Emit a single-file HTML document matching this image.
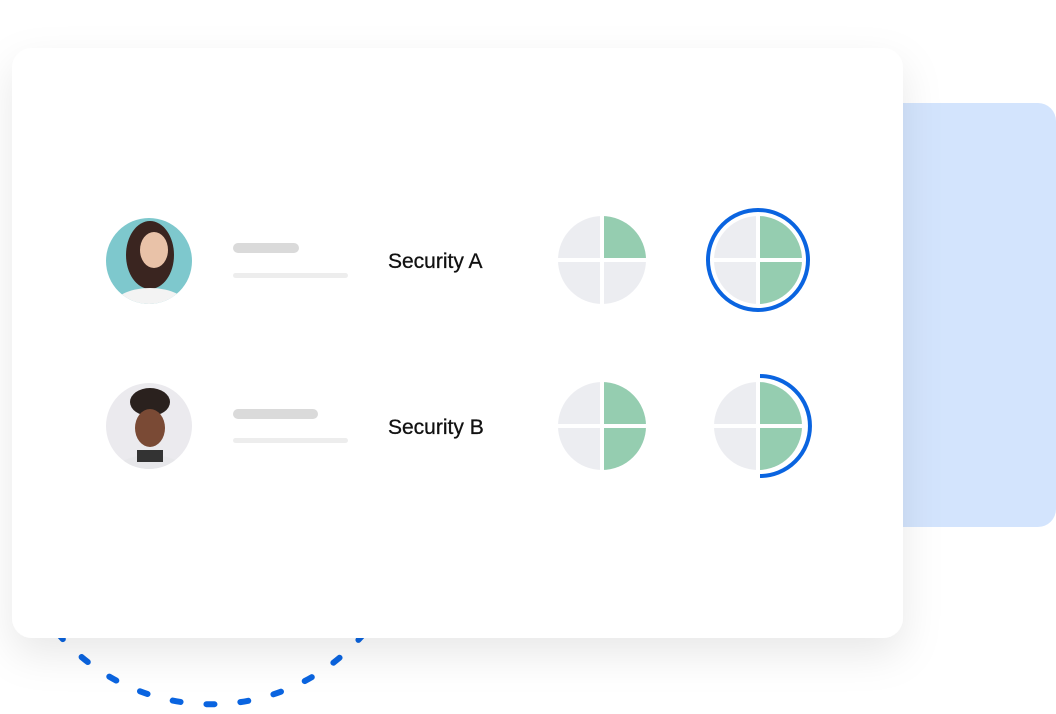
<!DOCTYPE html>
<html><head><style>
html,body{margin:0;padding:0;background:#fff;width:1056px;height:714px;overflow:hidden}
</style></head><body>
<svg width="1056" height="714" viewBox="0 0 1056 714" xmlns="http://www.w3.org/2000/svg">
<defs>
<filter id="sh" x="-10%" y="-10%" width="120%" height="130%">
<feDropShadow dx="0" dy="16" stdDeviation="20" flood-color="#000" flood-opacity="0.09"/>
</filter>
<clipPath id="a1"><circle cx="149" cy="261" r="43"/></clipPath>
<clipPath id="a2"><circle cx="149" cy="426" r="43"/></clipPath>
</defs>
<rect x="870" y="103" width="186" height="424" rx="18" fill="#d3e4fd"/>
<path d="M55 630 A201 201 0 0 0 367 630" fill="none" stroke="#0a64e0" stroke-width="6" stroke-linecap="round" stroke-dasharray="8 26" stroke-dashoffset="30"/>
<rect x="12" y="48" width="891" height="590" rx="20" fill="#fff" filter="url(#sh)"/>
<g clip-path="url(#a1)">
<rect x="100" y="210" width="100" height="100" fill="#7ec8cd"/>
<ellipse cx="150" cy="255" rx="24" ry="34" fill="#3a2520"/>
<ellipse cx="154" cy="250" rx="14" ry="18" fill="#e9c2a8"/>
<ellipse cx="150" cy="310" rx="40" ry="22" fill="#f3f3f3"/>
</g>
<g clip-path="url(#a2)">
<rect x="100" y="380" width="100" height="100" fill="#ebeaee"/>
<ellipse cx="150" cy="402" rx="20" ry="14" fill="#2a211e"/>
<ellipse cx="150" cy="428" rx="15" ry="19" fill="#7a4a35"/>
<ellipse cx="150" cy="475" rx="38" ry="20" fill="#e7e7ea"/>
<rect x="137" y="450" width="26" height="12" fill="#333"/>
</g>
<rect x="233" y="243" width="66" height="10" rx="5" fill="#dadada"/>
<rect x="233" y="273" width="115" height="5" rx="2.5" fill="#ededed"/>
<rect x="233" y="409" width="85" height="10" rx="5" fill="#dadada"/>
<rect x="233" y="438" width="115" height="5" rx="2.5" fill="#ededed"/>
<text x="388" y="268" font-family="Liberation Sans, sans-serif" font-size="21" fill="#111" stroke="#111" stroke-width="0.3">Security A</text>
<text x="388" y="434" font-family="Liberation Sans, sans-serif" font-size="21" fill="#111" stroke="#111" stroke-width="0.3">Security B</text>
<g>
<circle cx="602" cy="260" r="44" fill="#ecedf1"/>
<path d="M602 260 L602 216 A44 44 0 0 1 646 260 Z" fill="#95cdb0"/>
<line x1="602" y1="214" x2="602" y2="306" stroke="#fff" stroke-width="4"/>
<line x1="556" y1="260" x2="648" y2="260" stroke="#fff" stroke-width="4"/>
</g>
<g>
<circle cx="758" cy="260" r="44" fill="#ecedf1"/>
<path d="M758 216 A44 44 0 0 1 758 304 Z" fill="#95cdb0"/>
<line x1="758" y1="214" x2="758" y2="306" stroke="#fff" stroke-width="4"/>
<line x1="712" y1="260" x2="804" y2="260" stroke="#fff" stroke-width="4"/>
<circle cx="758" cy="260" r="50" fill="none" stroke="#0a64e0" stroke-width="4"/>
</g>
<g>
<circle cx="602" cy="426" r="44" fill="#ecedf1"/>
<path d="M602 382 A44 44 0 0 1 602 470 Z" fill="#95cdb0"/>
<line x1="602" y1="380" x2="602" y2="472" stroke="#fff" stroke-width="4"/>
<line x1="556" y1="426" x2="648" y2="426" stroke="#fff" stroke-width="4"/>
</g>
<g>
<circle cx="758" cy="426" r="44" fill="#ecedf1"/>
<path d="M758 382 A44 44 0 0 1 758 470 Z" fill="#95cdb0"/>
<line x1="758" y1="380" x2="758" y2="472" stroke="#fff" stroke-width="4"/>
<line x1="712" y1="426" x2="804" y2="426" stroke="#fff" stroke-width="4"/>
<path d="M760 376 A50 50 0 0 1 760 476" fill="none" stroke="#0a64e0" stroke-width="4"/>
</g>
</svg>
</body></html>
